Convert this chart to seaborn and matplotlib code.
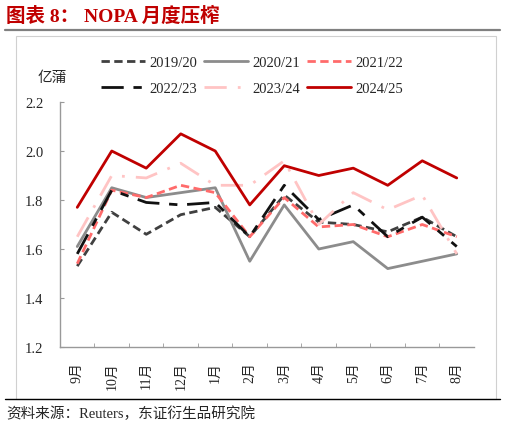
import matplotlib
matplotlib.use('Agg')
import matplotlib.pyplot as plt
import pandas as pd
import seaborn as sns
from matplotlib.lines import Line2D
from matplotlib.patches import Rectangle

months = ['9月', '10月', '11月', '12月', '1月', '2月', '3月', '4月', '5月', '6月', '7月', '8月']
s1920 = [1.53, 1.75, 1.66, 1.74, 1.77, 1.65, 1.82, 1.71, 1.70, 1.67, 1.73, 1.65]
s2021 = [1.61, 1.85, 1.81, 1.83, 1.85, 1.55, 1.78, 1.60, 1.63, 1.52, 1.55, 1.58]
s2122 = [1.54, 1.84, 1.81, 1.86, 1.83, 1.65, 1.81, 1.69, 1.70, 1.65, 1.70, 1.65]
s2223 = [1.58, 1.84, 1.79, 1.78, 1.79, 1.65, 1.86, 1.72, 1.78, 1.65, 1.73, 1.61]
s2324 = [1.65, 1.90, 1.89, 1.95, 1.86, 1.86, 1.96, 1.70, 1.83, 1.76, 1.82, 1.58]
s2425 = [1.77, 2.00, 1.93, 2.07, 2.00, 1.78, 1.94, 1.90, 1.93, 1.86, 1.96, 1.89]
labels = ['2019/20', '2020/21', '2021/22', '2022/23', '2023/24', '2024/25']

sns.set_style('white')
plt.rcParams['font.family'] = ['Liberation Serif', 'Noto Sans CJK SC']

series = [s1920, s2021, s2122, s2223, s2324, s2425]
styles = [
    dict(color='#404040', dashes=(3, 1.6)),
    dict(color='#8c8c8c', dashes=''),
    dict(color='#ff6b6b', dashes=(3, 1.6)),
    dict(color='#111111', dashes=(8, 3.5, 3, 3.5)),
    dict(color='#ffc4c4', dashes=(8, 4, 1, 4)),
    dict(color='#c00000', dashes=''),
]

fig = plt.figure(figsize=(5.06, 4.31), dpi=100)
ax = fig.add_axes([60 / 506, 1 - 348 / 431, 414 / 506, 245 / 431])

x = list(range(len(months)))
for lab, vals, st in zip(labels, series, styles):
    df = pd.DataFrame({'x': x, 'v': vals})
    sns.lineplot(data=df, x='x', y='v', ax=ax, color=st['color'], lw=2, label=lab)
    l = ax.lines[-1]
    if st['dashes']:
        l.set_dashes(st['dashes'])

ax.set_xlim(-0.5, 11.5)
ax.set_ylim(1.2, 2.2)
ax.set_yticks([1.2, 1.4, 1.6, 1.8, 2.0, 2.2])
ax.set_yticklabels(['%.1f' % v for v in [1.2, 1.4, 1.6, 1.8, 2.0, 2.2]], fontsize=10.5)
ax.set_xticks(x)
ax.set_xticklabels(months, rotation=90, fontsize=10)
ax.set_xticks([i + 0.5 for i in range(11)], minor=True)
ax.tick_params(axis='x', which='major', length=0, pad=10)
ax.tick_params(axis='x', which='minor', length=3, direction='in', color='#999999', bottom=True)
ax.tick_params(axis='y', length=3, direction='in', color='#999999', left=True, pad=12)
ax.set_xlabel('')
ax.set_ylabel('')
for s in ['top', 'right']:
    ax.spines[s].set_visible(False)
for s in ['left', 'bottom']:
    ax.spines[s].set_color('#999999')
    ax.spines[s].set_linewidth(1)

# legend reads row by row in the reference
h, lb = ax.get_legend_handles_labels()
ax.legend_.remove()
order = [0, 3, 1, 4, 2, 5]
fig.legend([h[i] for i in order], [lb[i] for i in order], loc='center',
           bbox_to_anchor=(252 / 506, 1 - 76.5 / 431), ncol=3,
           frameon=False, fontsize=10.5, handlelength=3.0, handletextpad=0.3,
           columnspacing=0.5, labelspacing=0.9, borderpad=0)

fig.text(52 / 506, 1 - 78 / 431, '亿蒲', ha='center', va='center', fontsize=10.5)

fig.text(6 / 506, 1 - 16 / 431, '图表 8： NOPA 月度压榨', ha='left', va='center',
         fontsize=14, fontweight='bold', color='#c00000')
fig.add_artist(Line2D([5 / 506, 500 / 506], [1 - 31 / 431, 1 - 31 / 431], color='#808080', lw=1.6))
fig.add_artist(Rectangle((16 / 506, 1 - 400 / 431), 480 / 506, 363 / 431, fill=False,
                         edgecolor='#d0d0d0', lw=0.8))
fig.add_artist(Line2D([5 / 506, 500 / 506], [1 - 400 / 431, 1 - 400 / 431], color='black', lw=1.0))
fig.text(6 / 506, 1 - 414 / 431, '资料来源：Reuters，东证衍生品研究院', ha='left', va='center', fontsize=10.5)

fig.savefig('out.png', dpi=100)
